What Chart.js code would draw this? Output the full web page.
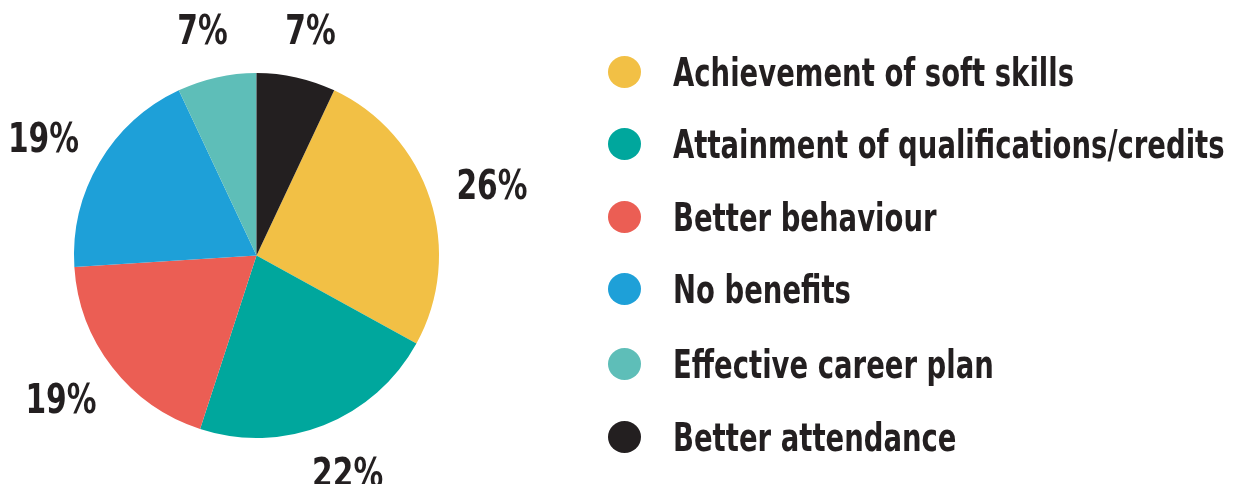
<!DOCTYPE html>
<html>
<head>
<meta charset="utf-8">
<script src="https://cdn.jsdelivr.net/npm/chart.js@4"></script>
<style>
  html, body { margin: 0; padding: 0; background: #ffffff; }
  #wrap { width: 1242px; height: 484px; position: relative; }
</style>
</head>
<body>
<div id="wrap"><canvas id="pie"></canvas></div>
<script>
// chart data
const categories = [
    'Achievement of soft skills',
    'Attainment of qualifications/credits',
    'Better behaviour',
    'No benefits',
    'Effective career plan',
    'Better attendance'
];
const shares = [26, 22, 19, 19, 7, 7];
const sliceColors = ['#F2C045', '#00A79D', '#EB5E54', '#1EA0D8', '#5EBEB8', '#231F20'];

const FONT = '"DejaVu Sans Condensed", "DejaVu Sans", sans-serif';
const INK = '#231F20';

// draw text squeezed horizontally (the original uses a condensed face)
function squeezedText(ctx, text, x, y, sx, align) {
    const w = ctx.measureText(text).width * sx;
    let left = x;
    if (align === 'center') left = x - w / 2;
    ctx.save();
    ctx.translate(left, y);
    ctx.scale(sx, 1);
    ctx.textAlign = 'left';
    ctx.fillText(text, 0, 0);
    ctx.restore();
}

// percent labels outside each slice
const outsideLabels = {
    id: 'outsideLabels',
    afterDatasetsDraw(chart) {
        const ctx = chart.ctx;
        const meta = chart.getDatasetMeta(0);
        const size = 41;
        ctx.save();
        ctx.font = 'bold ' + size + 'px ' + FONT;
        ctx.fillStyle = INK;
        ctx.textBaseline = 'alphabetic';
        const sx = 71 / ctx.measureText('26%').width;
        meta.data.forEach((arc, i) => {
            const mid = (arc.startAngle + arc.endAngle) / 2;
            const x = arc.x + Math.cos(mid) * (arc.outerRadius + 65);
            const y = arc.y + Math.sin(mid) * (arc.outerRadius + 50);
            squeezedText(ctx, shares[i] + '%', x, y + size * 0.364, sx, 'center');
        });
        ctx.restore();
    }
};

// legend on the right, drawn by hand to follow the original spacing
const sideLegend = {
    id: 'sideLegend',
    afterDraw(chart) {
        const ctx = chart.ctx;
        const rows = [72, 144, 217, 289, 364, 437];
        const size = 39;
        ctx.save();
        ctx.font = 'bold ' + size + 'px ' + FONT;
        ctx.textBaseline = 'alphabetic';
        const sx = 401 / ctx.measureText(categories[0]).width;
        categories.forEach((label, i) => {
            ctx.fillStyle = sliceColors[i];
            ctx.beginPath();
            ctx.ellipse(624.5, rows[i], 16.5, 16, 0, 0, Math.PI * 2);
            ctx.fill();
            ctx.fillStyle = INK;
            squeezedText(ctx, label, 673, rows[i] + size * 0.364, sx, 'left');
        });
        ctx.restore();
    }
};

new Chart(document.getElementById('pie').getContext('2d'), {
    type: 'pie',
    data: {
        labels: categories,
        datasets: [{
            data: shares,
            backgroundColor: sliceColors,
            borderWidth: 0
        }]
    },
    options: {
        responsive: true,
        maintainAspectRatio: false,
        animation: false,
        rotation: 25.2,
        layout: {
            padding: { left: 74, right: 803, top: 73, bottom: 46 }
        },
        plugins: {
            legend: { display: false },
            tooltip: { enabled: false }
        }
    },
    plugins: [outsideLabels, sideLegend]
});
</script>
</body>
</html>
